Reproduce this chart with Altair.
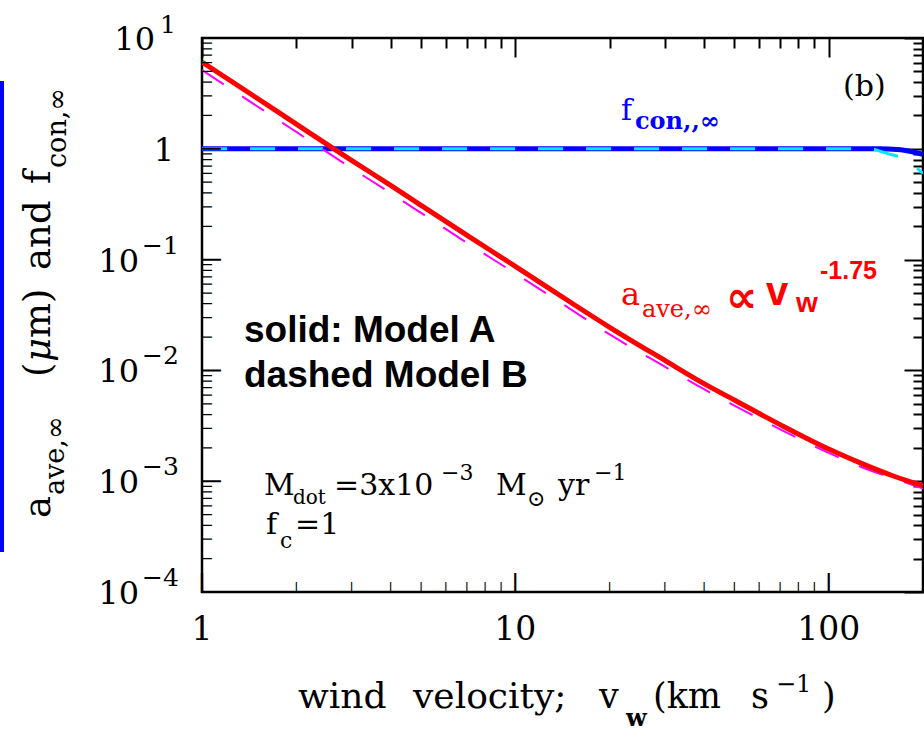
import altair as alt
import pandas as pd

# ---------------- data ----------------
v = [1, 1.5, 2, 3, 4, 5, 7, 10, 15, 20, 30, 40, 50, 70, 100, 130, 160, 200]
a_modelA = [6.07, 2.86, 1.67, 0.787, 0.468, 0.309, 0.166, 0.087, 0.0412, 0.0245,
            0.0123, 0.0076, 0.0054, 0.00324, 0.00195, 0.00141, 0.00112, 0.00091]
a_modelB = [5.14, 2.42, 1.42, 0.67, 0.398, 0.264, 0.142, 0.075, 0.0357, 0.0211,
            0.0108, 0.00676, 0.00482, 0.00294, 0.0018, 0.00131, 0.00107, 0.000857]

v_f = [1, 10, 100, 130, 138, 146, 155, 165, 172, 185, 200]
f_modelA = [1, 1, 1, 1, 1, 1, 0.995, 0.985, 0.975, 0.94, 0.89]
f_modelB = [1, 1, 1, 1, 0.995, 0.95, 0.9, 0.86, 0.83, 0.72, 0.6]

x_major = [1, 10, 100]
x_minor = [2, 3, 4, 5, 6, 7, 8, 9, 20, 30, 40, 50, 60, 70, 80, 90]
y_major = [1e-4, 1e-3, 1e-2, 1e-1, 1, 10]
y_minor = [k * 10.0 ** e for e in range(-4, 1) for k in range(2, 10)]

x_labels = ["1", "10", "100"]
y_neg_vals = [0.1, 0.01, 0.001, 0.0001]
y_neg_exps = ["\u22121", "\u22122", "\u22123", "\u22124"]

# ---------------- layout ----------------
W, H = 721, 554
PL, PT = 202, 38
SERIF = "DejaVu Serif"
SANS = "Liberation Sans"
MJ, MN = 19, 10

xs = alt.Scale(type="log", domain=[1, 200])
ys = alt.Scale(type="log", domain=[1e-4, 10])


def tick_axis(orient, values, size):
    # tick-only axis pulled inside the frame by its tick length -> inward ticks
    return alt.Axis(orient=orient, values=values, tickSize=size, offset=-size,
                    tickWidth=2, tickColor="black", domain=False, labels=False,
                    grid=False, title=None)


def series(xv, yv):
    return pd.DataFrame({"v": xv, "a": yv})


def line(df, color, width, xaxis=None, yaxis=None, dash=None):
    kw = dict(color=color, strokeWidth=width, interpolate="monotone", clip=True)
    if dash:
        kw["strokeDash"] = dash
    return alt.Chart(df).mark_line(**kw).encode(
        x=alt.X("v:Q", scale=xs, axis=xaxis),
        y=alt.Y("a:Q", scale=ys, axis=yaxis),
    )


blue = line(series(v_f, f_modelA), "#0000ff", 5)
cyan = line(series(v_f, f_modelB), "#00e5ff", 3, dash=[25, 23])
magenta = line(series(v, a_modelB), "#ff00ff", 2,
               tick_axis("top", x_major, MJ), tick_axis("right", y_major, MJ), [26, 22])
red = line(series(v, a_modelA), "#ff0000", 5,
           tick_axis("top", x_minor, MN), tick_axis("right", y_minor, MN))


# bottom and left inward ticks, drawn as bar glyphs placed by the data scales
def bottom_ticks(vals, size):
    return alt.Chart(pd.DataFrame({"v": vals})).mark_text(
        text="|", font="DejaVu Sans", fontWeight="bold", fontSize=size,
        align="center", baseline="alphabetic", color="black"
    ).encode(x=alt.X("v:Q", scale=xs, axis=None), y=alt.value(H - 0.236 * size))


def left_ticks(vals, size):
    return alt.Chart(pd.DataFrame({"a": vals})).mark_text(
        text="|", font="DejaVu Sans", fontWeight="bold", fontSize=size, angle=90,
        align="center", baseline="alphabetic", color="black"
    ).encode(y=alt.Y("a:Q", scale=ys, axis=None), x=alt.value(0.236 * size))


glyph_ticks = [bottom_ticks(x_major, MJ), bottom_ticks(x_minor, MN),
               left_ticks(y_major, MJ), left_ticks(y_minor, MN)]

# tick labels
xlab = alt.Chart(pd.DataFrame({"v": x_major, "t": x_labels})).mark_text(
    font=SERIF, fontSize=33, align="center", baseline="alphabetic", color="black"
).encode(x=alt.X("v:Q", scale=xs, axis=None), y=alt.value(640 - PT), text="t:N")

yneg_df = pd.DataFrame({"a": y_neg_vals, "e": y_neg_exps})
ylab_base = alt.Chart(yneg_df).mark_text(
    text="10", font=SERIF, fontSize=32, align="right", baseline="alphabetic", dy=12
).encode(y=alt.Y("a:Q", scale=ys, axis=None), x=alt.value(139 - PL))
ylab_exp = alt.Chart(yneg_df).mark_text(
    font=SERIF, fontSize=25, align="left", baseline="alphabetic", dy=-6
).encode(y=alt.Y("a:Q", scale=ys, axis=None), x=alt.value(142 - PL), text="e:N")
ytop_df = pd.DataFrame({"a": [10], "e": ["1"]})
ytop_base = alt.Chart(ytop_df).mark_text(
    text="10", font=SERIF, fontSize=32, align="right", baseline="alphabetic", dy=12
).encode(y=alt.Y("a:Q", scale=ys, axis=None), x=alt.value(155 - PL))
ytop_exp = alt.Chart(ytop_df).mark_text(
    font=SERIF, fontSize=25, align="left", baseline="alphabetic", dy=-5
).encode(y=alt.Y("a:Q", scale=ys, axis=None), x=alt.value(160 - PL), text="e:N")
yone = alt.Chart(pd.DataFrame({"a": [1]})).mark_text(
    text="1", font=SERIF, fontSize=32, align="right", baseline="alphabetic", dy=12
).encode(y=alt.Y("a:Q", scale=ys, axis=None), x=alt.value(174 - PL))


def txt(s, px, py, size, font=SERIF, weight="normal", color="black", angle=0, style="normal"):
    return alt.Chart(pd.DataFrame({"t": [s]})).mark_text(
        font=font, fontSize=size, fontWeight=weight, color=color, fontStyle=style,
        angle=angle, align="left", baseline="alphabetic"
    ).encode(x=alt.value(px - PL), y=alt.value(py - PT), text="t:N")


texts = [
    # y title (rotated)
    txt("a", 50, 518, 37, angle=270),
    txt("ave,\u221e", 64, 495, 27, angle=270),
    txt("(", 50, 377, 37, angle=270),
    txt("\u03bc", 50, 362, 37, angle=270, style="italic"),
    txt("m)", 50, 338, 37, angle=270),
    txt("and", 50, 270, 37, angle=270),
    txt("f", 50, 184, 37, angle=270),
    txt("con,\u221e", 66, 168, 27, angle=270),
    # x title
    txt("wind", 298, 708, 36),
    txt("velocity;", 413, 708, 36),
    txt("v", 599, 708, 35),
    txt("w", 626, 726, 24, weight="bold"),
    txt("(km", 653, 708, 35),
    txt("s", 751, 708, 35),
    txt("\u22121", 776, 692, 24),
    txt(")", 822, 708, 35),
    # panel label
    txt("(b)", 843, 96, 30),
    # f label
    txt("f", 621, 120, 30, color="#0000ff"),
    txt("con,,\u221e", 635, 129, 24, weight="bold", color="#0000ff"),
    # a label
    txt("a", 621, 305, 32, color="#ff0000"),
    txt("ave,\u221e", 642, 317, 24, color="#ff0000"),
    txt("\u221d", 726, 312, 44, font="DejaVu Sans", weight="bold", color="#ff0000"),
    txt("v", 766, 305, 40, font=SANS, weight="bold", color="#ff0000"),
    txt("w", 796, 312, 28, font=SANS, weight="bold", color="#ff0000"),
    txt("-1.75", 820, 279, 25, font=SANS, weight="bold", color="#ff0000"),
    # model legend
    txt("solid: Model A", 244, 342, 37, font=SANS, weight="bold"),
    txt("dashed Model B", 244, 387, 37, font=SANS, weight="bold"),
    # parameters
    txt("M", 264, 495, 30),
    txt("dot", 293, 504, 20),
    txt("=3x10", 334, 495, 30),
    txt("\u22123", 441, 480, 22),
    txt("M", 496, 495, 30),
    txt("\u2299", 527, 506, 22),
    txt("yr", 558, 495, 30),
    txt("\u22121", 594, 480, 22),
    txt("f", 266, 534, 30),
    txt("c", 280, 548, 22),
    txt("=1", 295, 534, 30),
]

bar = alt.Chart(pd.DataFrame({"k": [0]})).mark_rule(color="#0000ff", strokeWidth=4).encode(
    x=alt.value(2 - PL), y=alt.value(81 - PT), y2=alt.value(552 - PT)
)

chart = alt.layer(
    blue, cyan, magenta, red, *glyph_ticks, xlab, ylab_base, ylab_exp, ytop_base, ytop_exp,
    yone, *texts, bar
).resolve_axis(x="independent", y="independent").properties(
    width=W, height=H, autosize="none",
    padding={"left": PL, "top": PT, "right": 924 - PL - W, "bottom": 731 - PT - H},
    background="white",
).configure_view(stroke="black", strokeWidth=2.5)

chart.save("out.html", embed_options={"renderer": "svg", "actions": False})
